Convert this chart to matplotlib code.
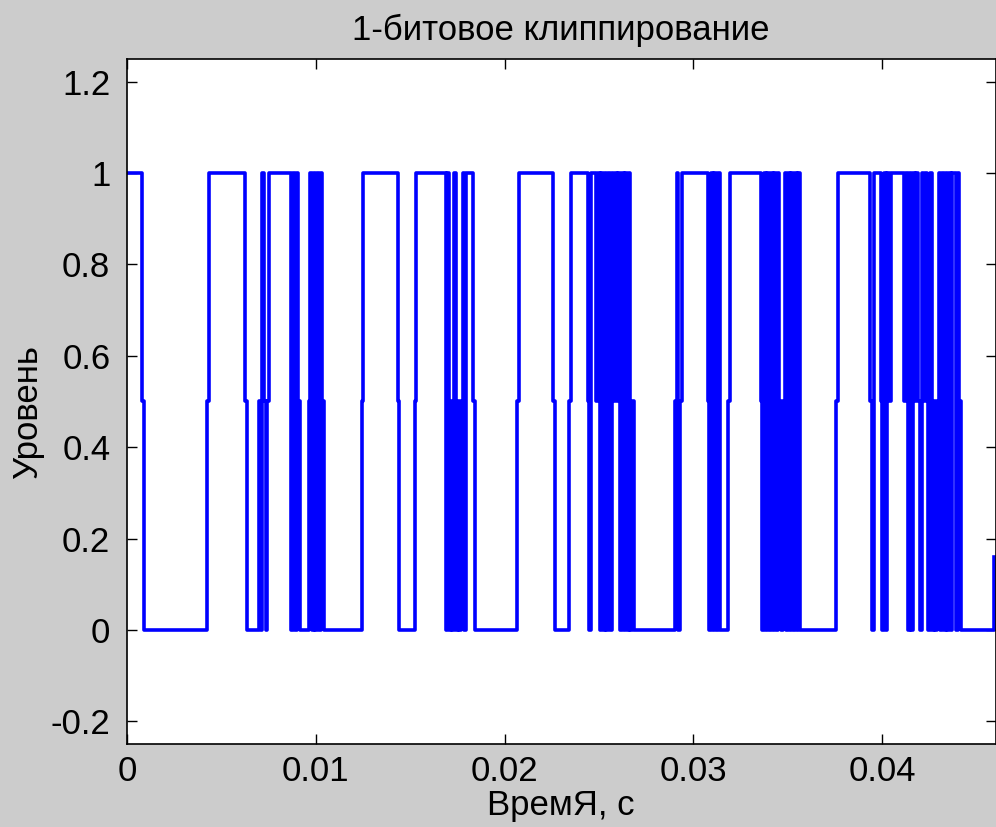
import numpy as np
import matplotlib.pyplot as plt

FS = 11025          # sample rate, Hz
N_SAMPLES = 507
H = 0.5             # middle level of the clipper

# (sample index, new level)
switches = [
    (0, 1), (9, H), (10, 0), (47, H), (48, 1), (69, H), (70, 0), (77, H), (78, 0),
    (79, 1), (80, H), (81, 0), (82, H), (83, 1), (96, 0), (97, 1), (98, 0), (99, 1),
    (100, H), (101, 0), (106, H), (107, 1), (108, 0), (109, 1), (110, 0), (111, 1),
    (112, 0), (113, 1), (114, H), (115, 0), (137, H), (138, 1), (158, H), (159, 0),
    (168, H), (169, 1), (186, 0), (187, 1), (188, 0), (189, H), (190, 0), (191, 1),
    (192, 0), (193, H), (194, 0), (195, H), (196, 1), (197, 0), (198, 1), (202, H),
    (203, 0), (228, H), (229, 1), (249, H), (250, 0), (258, H), (259, 1), (269, H),
    (270, 0), (271, 1), (274, H), (275, 1), (276, 0), (277, 1), (278, 0), (279, 1),
    (280, 0), (281, 1), (282, 0), (283, 1), (284, H), (285, 1), (286, H), (287, 1),
    (288, 0), (289, 1), (290, 0), (291, 1), (292, 0), (293, 1), (294, 0), (295, H),
    (296, 0), (320, H), (321, 1), (322, 0), (323, H), (324, 1), (339, H), (340, 0),
    (341, 1), (342, 0), (343, 1), (344, 0), (345, 1), (346, 0), (351, H), (352, 1),
    (370, H), (371, 0), (372, 1), (373, 0), (374, 1), (375, 0), (376, 1), (377, 0),
    (378, 1), (379, 0), (380, 1), (381, H), (382, 0), (383, H), (384, 1), (385, 0),
    (386, 1), (387, 0), (388, 1), (389, 0), (390, 1), (391, 0), (392, 1), (393, 0),
    (414, H), (415, 1), (434, H), (435, 0), (436, 1), (440, H), (441, 0), (442, 1),
    (443, 0), (444, 1), (445, H), (446, 1), (454, H), (455, 1), (456, 0), (457, 1),
    (458, 0), (459, 1), (460, H), (461, 1), (462, H), (463, 0), (464, 1), (465, H),
    (466, 1), (467, H), (468, 0), (469, 1), (470, 0), (471, H), (472, 0), (473, H),
    (474, 1), (475, 0), (476, 1), (477, 0), (478, 1), (479, 0), (480, 1), (481, 0),
    (482, 1), (484, 0), (485, 1), (486, H), (487, 0), (506, 0.16),
]

x_ticks = [0, 0.01, 0.02, 0.03, 0.04]
x_labels = ["0", "0.01", "0.02", "0.03", "0.04"]
y_ticks = [-0.2, 0, 0.2, 0.4, 0.6, 0.8, 1, 1.2]
y_labels = ["-0.2", "0", "0.2", "0.4", "0.6", "0.8", "1", "1.2"]


def build_signal():
    y = np.zeros(N_SAMPLES)
    for k, (start, lvl) in enumerate(switches):
        stop = switches[k + 1][0] if k + 1 < len(switches) else N_SAMPLES
        y[start:stop] = lvl
    return y


def main():
    plt.rcParams['font.family'] = ['Liberation Sans', 'DejaVu Sans']
    y = build_signal()
    t = np.arange(N_SAMPLES) / FS

    fig = plt.figure(figsize=(9.96, 8.27), dpi=100, facecolor='#cccccc')
    ax = fig.add_axes([0.1275, 0.1001, 0.872, 0.8289])
    ax.set_facecolor('white')
    ax.step(t, y, where='post', color='#0000ff', lw=2.6)

    ax.set_xlim(0, 0.046)
    ax.set_ylim(-0.25, 1.25)
    ax.set_xticks(x_ticks)
    ax.set_xticklabels(x_labels)
    ax.set_yticks(y_ticks)
    ax.set_yticklabels(y_labels)
    ax.tick_params(direction='in', length=7, width=1, top=True, right=True,
                   labelsize=25, colors='black')
    ax.tick_params(axis='y', pad=12)
    ax.tick_params(axis='x', pad=8)
    for s in ax.spines.values():
        s.set_linewidth(1.2)

    fig.text(0.5635, 1 - 30 / 827, "1-битовое клиппирование", fontsize=25,
             ha='center', va='center')
    fig.text(0.5635, 1 - 805 / 827, "ВремЯ, с", fontsize=25,
             ha='center', va='center')
    fig.text(28 / 996, 1 - 412 / 827, "Уровень", fontsize=25, rotation=90,
             ha='center', va='center')

    fig.savefig("out.png", dpi=100, facecolor=fig.get_facecolor())


if __name__ == "__main__":
    main()
